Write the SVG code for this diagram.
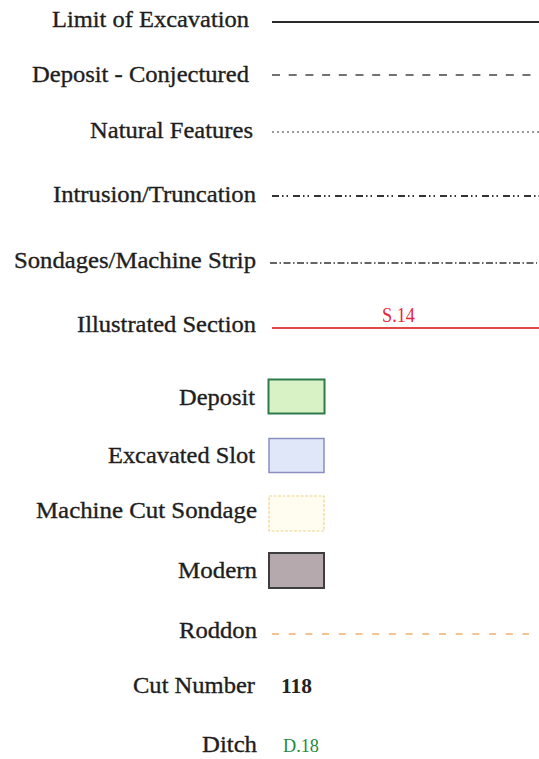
<svg xmlns="http://www.w3.org/2000/svg" width="539" height="759" viewBox="0 0 539 759">
<style>
.lbl{font-family:"Liberation Serif","Times New Roman",serif;font-size:24px;fill:#1e1e1e;stroke:#1e1e1e;stroke-width:0.35px;text-anchor:end}
.ln{fill:none}
</style>
<rect x="0" y="0" width="539" height="759" fill="#ffffff"/>
<g id="limit">
<text class="lbl" x="249" y="27" textLength="197" lengthAdjust="spacingAndGlyphs">Limit of Excavation</text>
<line class="ln" x1="272" y1="22" x2="539" y2="22" stroke="#2a2a2a" stroke-width="2"/>
</g>
<g id="deposit-conjectured">
<text class="lbl" x="249" y="82" textLength="217" lengthAdjust="spacingAndGlyphs">Deposit - Conjectured</text>
<line class="ln" x1="272" y1="75" x2="533" y2="75" stroke="#444" stroke-width="1.6" stroke-dasharray="8 8.7"/>
</g>
<g id="natural">
<text class="lbl" x="253" y="138" textLength="163" lengthAdjust="spacingAndGlyphs">Natural Features</text>
<line class="ln" x1="272" y1="132" x2="539" y2="132" stroke="#9a9a9a" stroke-width="2" stroke-dasharray="2 3"/>
</g>
<g id="intrusion">
<text class="lbl" x="256" y="202" textLength="203" lengthAdjust="spacingAndGlyphs">Intrusion/Truncation</text>
<line class="ln" x1="272" y1="196" x2="539" y2="196" stroke="#333" stroke-width="1.8" stroke-dasharray="7 3 1.5 3 1.5 5"/>
</g>
<g id="sondages">
<text class="lbl" x="256" y="268" textLength="242" lengthAdjust="spacingAndGlyphs">Sondages/Machine Strip</text>
<line class="ln" x1="270" y1="263" x2="537" y2="263" stroke="#333" stroke-width="1.5" stroke-dasharray="7 2.5 1.5 2.5"/>
</g>
<g id="section">
<text class="lbl" x="256" y="332" textLength="179" lengthAdjust="spacingAndGlyphs">Illustrated Section</text>
<line class="ln" x1="272" y1="328" x2="539" y2="328" stroke="#e04848" stroke-width="2"/>
<text x="382" y="322" font-family="'Liberation Serif','Times New Roman',serif" font-size="20" fill="#e8283a" textLength="33" lengthAdjust="spacingAndGlyphs">S.14</text>
</g>
<g id="deposit">
<text class="lbl" x="255" y="405" textLength="76" lengthAdjust="spacingAndGlyphs">Deposit</text>
<rect x="268.5" y="379.5" width="56" height="34" fill="#d8f2c6" stroke="#2f7a4a" stroke-width="2"/>
</g>
<g id="excavated-slot">
<text class="lbl" x="255" y="463" textLength="147" lengthAdjust="spacingAndGlyphs">Excavated Slot</text>
<rect x="269" y="438.5" width="55" height="34" fill="#dfe7f8" stroke="#8a8fc0" stroke-width="1.5"/>
</g>
<g id="machine-cut">
<text class="lbl" x="257" y="518" textLength="221" lengthAdjust="spacingAndGlyphs">Machine Cut Sondage</text>
<rect x="269" y="496" width="55" height="35" fill="#fffdf0" stroke="#eed58a" stroke-width="1.2" stroke-dasharray="3 1.5"/>
</g>
<g id="modern">
<text class="lbl" x="257" y="578" textLength="79" lengthAdjust="spacingAndGlyphs">Modern</text>
<rect x="269" y="553" width="55" height="35" fill="#b5a9ad" stroke="#3e3e3e" stroke-width="2"/>
</g>
<g id="roddon">
<text class="lbl" x="257" y="638" textLength="78" lengthAdjust="spacingAndGlyphs">Roddon</text>
<line class="ln" x1="272" y1="634" x2="529" y2="634" stroke="#f0b070" stroke-width="1.5" stroke-dasharray="7 9.7"/>
</g>
<g id="cut-number">
<text class="lbl" x="255" y="693" textLength="122" lengthAdjust="spacingAndGlyphs">Cut Number</text>
<text x="281" y="693" font-family="'Liberation Serif','Times New Roman',serif" font-size="20" font-weight="bold" fill="#222" textLength="31" lengthAdjust="spacingAndGlyphs">118</text>
</g>
<g id="ditch">
<text class="lbl" x="257" y="752" textLength="55" lengthAdjust="spacingAndGlyphs">Ditch</text>
<text x="283" y="752" font-family="'Liberation Serif','Times New Roman',serif" font-size="18" fill="#1f8a3a" textLength="36" lengthAdjust="spacingAndGlyphs">D.18</text>
</g>
</svg>
